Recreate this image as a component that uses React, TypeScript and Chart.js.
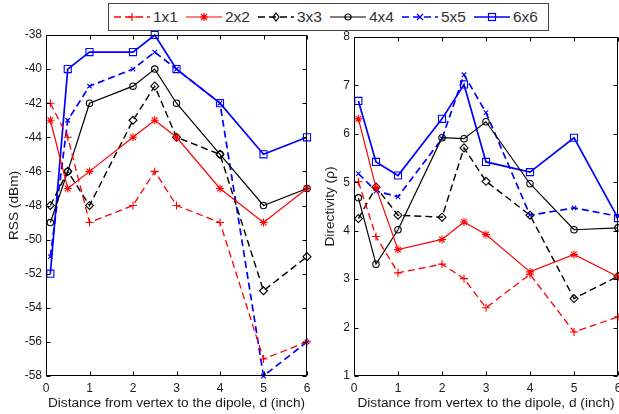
import React, { useEffect, useRef } from "react";
import { Chart, registerables } from "chart.js";

Chart.register(...registerables);

// ---------- data ----------
const distances = [0.1, 0.5, 1, 2, 2.5, 3, 4, 5, 6];
const seriesNames = ["1x1", "2x2", "3x3", "4x4", "5x5", "6x6"];

const rss1x1 = [-42, -44, -49, -48, -46, -48, -49, -57, -56];
const rss2x2 = [-43, -47, -46, -44, -43, -44, -47, -49, -47];
const rss3x3 = [-48, -46, -48, -43, -41, -44, -45, -53, -51];
const rss4x4 = [-49, -46, -42, -41, -40, -42, -45, -48, -47];
const rss5x5 = [-51, -43, -41, -40, -39, -40, -42, -58, -56];
const rss6x6 = [-52, -40, -39, -39, -38, -40, -42, -45, -44];

const dir1x1 = [5.01, 3.88, 3.13, 3.31, 3.01, 2.41, 3.1, 1.91, 2.22];
const dir2x2 = [6.31, 4.89, 3.61, 3.82, 4.18, 3.92, 3.15, 3.51, 3.05];
const dir3x3 = [4.25, 4.9, 4.32, 4.28, 5.71, 5.02, 4.32, 2.6, 3.06];
const dir4x4 = [4.68, 3.31, 4.02, 5.92, 5.9, 6.25, 4.97, 4.02, 4.06];
const dir5x5 = [5.18, 4.82, 4.7, 5.9, 7.22, 6.44, 4.32, 4.47, 4.3];
const dir6x6 = [6.68, 5.42, 5.14, 6.31, 7.02, 5.42, 5.21, 5.92, 4.26];

const xTicks = [0, 1, 2, 3, 4, 5, 6];
const rssTicks = [-58, -56, -54, -52, -50, -48, -46, -44, -42, -40, -38];
const dirTicks = [1, 2, 3, 4, 5, 6, 7, 8];

const xTitle = "Distance from vertex to the dipole, d (inch)";
const rssTitle = "RSS (dBm)";
const dirTitle = "Directivity (\u03C1)";

// ---------- styles ----------
const RED = "#ff0000";
const BLUE = "#0000ff";
const BLACK = "#000000";
type Style = { color: string; dash: number[]; point: string; radius: number; width: number };
const styles: Style[] = [
  { color: RED, dash: [7, 4], point: "cross", radius: 4, width: 1.3 },
  { color: RED, dash: [], point: "star", radius: 4, width: 1.2 },
  { color: BLACK, dash: [7, 4], point: "rectRot", radius: 4, width: 1.4 },
  { color: BLACK, dash: [], point: "circle", radius: 3.2, width: 1.2 },
  { color: BLUE, dash: [7, 4], point: "crossRot", radius: 3.2, width: 1.7 },
  { color: BLUE, dash: [], point: "rect", radius: 5, width: 1.7 },
];

const FONT = "'Liberation Sans', Arial, Helvetica, sans-serif";
const TEXT = "#1a1a1a";

const framePlugin = {
  id: "matlabFrame",
  afterDatasetsDraw(chart: any) {
    const { ctx, chartArea: a, scales } = chart;
    const L = Math.round(a.left) + 0.5;
    const R = Math.round(a.right) - 0.5;
    const T = Math.round(a.top) + 0.5;
    const B = Math.round(a.bottom) - 0.5;
    ctx.save();
    ctx.setLineDash([]);
    ctx.strokeStyle = "#000";
    ctx.lineWidth = 1;
    ctx.beginPath();
    ctx.rect(L, T, R - L, B - T);
    const tl = 4;
    scales.x.ticks.forEach((t: any) => {
      const px = Math.round(scales.x.getPixelForValue(t.value)) + 0.5;
      ctx.moveTo(px, B);
      ctx.lineTo(px, B - tl);
      ctx.moveTo(px, T);
      ctx.lineTo(px, T + tl);
    });
    scales.y.ticks.forEach((t: any) => {
      const py = Math.round(scales.y.getPixelForValue(t.value)) + 0.5;
      ctx.moveTo(L, py);
      ctx.lineTo(L + tl, py);
      ctx.moveTo(R, py);
      ctx.lineTo(R - tl, py);
    });
    ctx.stroke();
    ctx.restore();
  },
};

function buildDatasets(series: number[][]) {
  return series.map((vals, i) => {
    const s = styles[i];
    return {
      label: seriesNames[i],
      data: distances.map((d, j) => ({ x: d, y: vals[j] })),
      borderColor: s.color,
      borderWidth: s.width,
      borderDash: s.dash,
      pointStyle: s.point,
      pointRadius: s.radius,
      pointBorderColor: s.color,
      pointBackgroundColor: "rgba(0,0,0,0)",
      pointBorderWidth: 1.1,
      tension: 0,
      fill: false,
      clip: false as any,
    };
  });
}

type PanelProps = {
  series: number[][];
  yTicks: number[];
  yTitle: string;
  left: number;
  padTop: number;
  padRight: number;
  yWidth: number;
  yTitlePad: number;
};

function Panel(p: PanelProps) {
  const ref = useRef<HTMLCanvasElement>(null);
  useEffect(() => {
    if (!ref.current) return;
    const chart = new Chart(ref.current, {
      type: "line",
      data: { datasets: buildDatasets(p.series) as any },
      plugins: [framePlugin],
      options: {
        animation: false,
        responsive: false,
        maintainAspectRatio: false,
        layout: { padding: { top: p.padTop, right: p.padRight, left: 0, bottom: 0 } },
        plugins: { legend: { display: false }, tooltip: { enabled: false } },
        scales: {
          x: {
            type: "linear",
            min: xTicks[0],
            max: xTicks[xTicks.length - 1],
            afterBuildTicks: (s: any) => {
              s.ticks = xTicks.map((v) => ({ value: v }));
            },
            afterFit: (s: any) => {
              s.height = 38;
            },
            grid: { display: false, drawTicks: false },
            border: { display: false },
            ticks: {
              padding: 5,
              color: TEXT,
              font: { family: FONT, size: 12 },
              maxRotation: 0,
              autoSkip: false,
              callback: (v: any) => String(v),
            },
            title: {
              display: true,
              text: xTitle,
              color: TEXT,
              font: { family: FONT, size: 13.7 },
              padding: { top: 0, bottom: 3 },
            },
          },
          y: {
            type: "linear",
            min: p.yTicks[0],
            max: p.yTicks[p.yTicks.length - 1],
            afterBuildTicks: (s: any) => {
              s.ticks = p.yTicks.map((v) => ({ value: v }));
            },
            afterFit: (s: any) => {
              s.width = p.yWidth;
            },
            grid: { display: false, drawTicks: false },
            border: { display: false },
            ticks: {
              padding: 4,
              color: TEXT,
              font: { family: FONT, size: 12 },
              autoSkip: false,
              callback: (v: any) => String(v),
            },
            title: {
              display: true,
              text: p.yTitle,
              color: TEXT,
              font: { family: FONT, size: 13.7 },
              padding: { top: p.yTitlePad, bottom: 0 },
            },
          },
        },
      } as any,
    });
    return () => chart.destroy();
  }, []);
  return (
    <canvas
      ref={ref}
      width={330}
      height={414}
      style={{ position: "absolute", left: p.left, top: 0, width: 330, height: 414 }}
    />
  );
}

function Marker({ kind, color }: { kind: string; color: string }) {
  const cx = 18;
  const cy = 7;
  const common = { stroke: color, strokeWidth: 1.2, fill: "none" };
  if (kind === "cross")
    return <path d={`M${cx - 4} ${cy}H${cx + 4}M${cx} ${cy - 4}V${cy + 4}`} {...common} />;
  if (kind === "star")
    return (
      <path
        d={`M${cx - 4} ${cy}H${cx + 4}M${cx} ${cy - 4}V${cy + 4}M${cx - 3} ${cy - 3}L${cx + 3} ${cy + 3}M${cx - 3} ${cy + 3}L${cx + 3} ${cy - 3}`}
        {...common}
      />
    );
  if (kind === "rectRot")
    return <path d={`M${cx} ${cy - 4}L${cx + 3} ${cy}L${cx} ${cy + 4}L${cx - 3} ${cy}Z`} {...common} />;
  if (kind === "circle") return <circle cx={cx} cy={cy} r={3} {...common} />;
  if (kind === "crossRot")
    return <path d={`M${cx - 3} ${cy - 3}L${cx + 3} ${cy + 3}M${cx - 3} ${cy + 3}L${cx + 3} ${cy - 3}`} {...common} />;
  return <rect x={cx - 3.5} y={cy - 3.5} width={7} height={7} {...common} />;
}

function Legend() {
  return (
    <div
      style={{
        position: "absolute",
        left: 108,
        top: 3,
        width: 434,
        height: 26,
        border: "1px solid #444",
        background: "#fff",
        display: "flex",
        alignItems: "center",
        paddingLeft: 5,
        boxSizing: "content-box",
      }}
    >
      {seriesNames.map((name, i) => {
        const s = styles[i];
        return (
          <div key={name} style={{ display: "flex", alignItems: "center", width: i < 5 ? 72 : undefined }}>
            <svg width={36} height={14} style={{ display: "block" }}>
              <line
                x1={0}
                y1={7}
                x2={36}
                y2={7}
                stroke={s.color}
                strokeWidth={s.width}
                strokeDasharray={s.dash.length ? "7 4" : undefined}
              />
              <Marker kind={s.point} color={s.color} />
            </svg>
            <span
              style={{
                marginLeft: 3,
                fontFamily: FONT,
                fontSize: 15.5,
                color: "#333",
                lineHeight: "16px",
              }}
            >
              {name}
            </span>
          </div>
        );
      })}
    </div>
  );
}

export default function App() {
  return (
    <div
      style={{
        position: "absolute",
        left: 0,
        top: 0,
        width: 619,
        height: 414,
        overflow: "hidden",
        background: "#fff",
      }}
    >
      <Panel
        series={[rss1x1, rss2x2, rss3x3, rss4x4, rss5x5, rss6x6]}
        yTicks={rssTicks}
        yTitle={rssTitle}
        left={0}
        padTop={35}
        padRight={23}
        yWidth={46}
        yTitlePad={6}
      />
      <Panel
        series={[dir1x1, dir2x2, dir3x3, dir4x4, dir5x5, dir6x6]}
        yTicks={dirTicks}
        yTitle={dirTitle}
        left={310}
        padTop={37}
        padRight={22}
        yWidth={44}
        yTitlePad={12.5}
      />
      <Legend />
    </div>
  );
}
